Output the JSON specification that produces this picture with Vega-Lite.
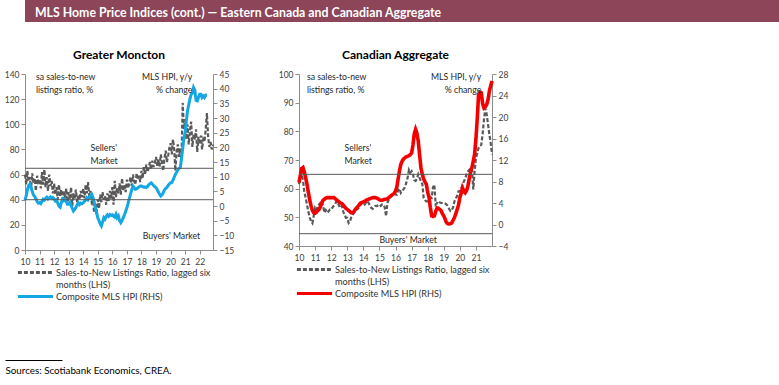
{
  "$schema": "https://vega.github.io/schema/vega-lite/v6.json",
  "background": "white",
  "padding": {"left": 4, "top": 0, "right": 0, "bottom": 0},
  "config": {
    "font": "Lato",
    "view": {"stroke": null},
    "axis": {"labelFont": "Lato", "labelFontSize": 8.5, "labelColor": "#404040", "domainColor": "#8c8c8c", "tickColor": "#8c8c8c", "tickSize": 4, "labelPadding": 2, "grid": false}
  },
  "align": "none",
  "spacing": 27,
  "vconcat": [
    {
      "width": 775,
      "height": 22,
      "view": {"fill": "#8C4559", "stroke": null},
      "title": {"text": "MLS Home Price Indices (cont.) \u2014 Eastern Canada and Canadian Aggregate", "anchor": "start", "offset": -19, "dx": 10, "color": "white", "font": "Lato", "fontSize": 12.3, "fontWeight": "bold"},
      "data": {"values": [{"a": 0}]},
      "mark": {"type": "point", "opacity": 0}
    },
    {
      "align": "none",
      "spacing": 53,
      "vconcat": [
        {
          "bounds": "flush",
          "spacing": 86,
          "resolve": {"scale": {"color": "independent", "strokeDash": "independent"}, "legend": {"color": "independent", "strokeDash": "independent"}},
          "hconcat": [
            {
              "width": 188,
              "height": 176,
              "title": {"text": "Greater Moncton", "font": "Lato", "fontSize": 12, "fontWeight": "bold", "color": "#000000", "offset": 8},
              "data": {"format": {"parse": {"d": "date:'%Y-%m'"}}, "values": [
      {"d":"2010-01","s":60,"h":2.0},{"d":"2010-02","s":52,"h":3.5},{"d":"2010-03","s":63,"h":5.5},{"d":"2010-04","s":55,"h":7.0},{"d":"2010-05","s":58,"h":7.4},{"d":"2010-06","s":48,"h":6.5},{"d":"2010-07","s":61,"h":5.0},{"d":"2010-08","s":53,"h":3.8},{"d":"2010-09","s":57,"h":3.2},{"d":"2010-10","s":47,"h":2.5},{"d":"2010-11","s":59,"h":1.5},{"d":"2010-12","s":54,"h":1.0},
      {"d":"2011-01","s":56,"h":1.2},{"d":"2011-02","s":49,"h":0.8},{"d":"2011-03","s":62,"h":1.5},{"d":"2011-04","s":52,"h":2.3},{"d":"2011-05","s":64,"h":2.0},{"d":"2011-06","s":50,"h":2.6},{"d":"2011-07","s":58,"h":3.0},{"d":"2011-08","s":47,"h":2.4},{"d":"2011-09","s":60,"h":2.8},{"d":"2011-10","s":51,"h":3.1},{"d":"2011-11","s":55,"h":2.6},{"d":"2011-12","s":45,"h":2.9},
      {"d":"2012-01","s":53,"h":2.4},{"d":"2012-02","s":44,"h":1.7},{"d":"2012-03","s":50,"h":2.0},{"d":"2012-04","s":40,"h":1.0},{"d":"2012-05","s":52,"h":0.0},{"d":"2012-06","s":43,"h":-0.4},{"d":"2012-07","s":48,"h":1.2},{"d":"2012-08","s":38,"h":2.3},{"d":"2012-09","s":47,"h":1.8},{"d":"2012-10","s":41,"h":2.3},{"d":"2012-11","s":49,"h":1.5},{"d":"2012-12","s":36,"h":0.6},
      {"d":"2013-01","s":46,"h":0.6},{"d":"2013-02","s":40,"h":1.2},{"d":"2013-03","s":50,"h":0.2},{"d":"2013-04","s":35,"h":-0.8},{"d":"2013-05","s":45,"h":-1.7},{"d":"2013-06","s":41,"h":-1.2},{"d":"2013-07","s":48,"h":-0.5},{"d":"2013-08","s":38,"h":0.4},{"d":"2013-09","s":44,"h":1.1},{"d":"2013-10","s":40,"h":0.5},{"d":"2013-11","s":47,"h":1.0},{"d":"2013-12","s":42,"h":0.8},
      {"d":"2014-01","s":49,"h":1.1},{"d":"2014-02","s":41,"h":1.6},{"d":"2014-03","s":52,"h":2.0},{"d":"2014-04","s":45,"h":2.8},{"d":"2014-05","s":54,"h":2.2},{"d":"2014-06","s":43,"h":3.0},{"d":"2014-07","s":47,"h":3.5},{"d":"2014-08","s":38,"h":4.0},{"d":"2014-09","s":40,"h":3.0},{"d":"2014-10","s":30,"h":1.5},{"d":"2014-11","s":36,"h":-0.6},{"d":"2014-12","s":28,"h":-2.0},
      {"d":"2015-01","s":40,"h":-4.0},{"d":"2015-02","s":33,"h":-5.0},{"d":"2015-03","s":44,"h":-6.0},{"d":"2015-04","s":38,"h":-6.8},{"d":"2015-05","s":46,"h":-5.5},{"d":"2015-06","s":40,"h":-4.0},{"d":"2015-07","s":43,"h":-4.5},{"d":"2015-08","s":36,"h":-3.5},{"d":"2015-09","s":45,"h":-3.0},{"d":"2015-10","s":39,"h":-3.5},{"d":"2015-11","s":47,"h":-2.9},{"d":"2015-12","s":41,"h":-3.2},
      {"d":"2016-01","s":50,"h":-3.0},{"d":"2016-02","s":36,"h":-3.5},{"d":"2016-03","s":55,"h":-3.8},{"d":"2016-04","s":42,"h":-2.8},{"d":"2016-05","s":49,"h":-4.0},{"d":"2016-06","s":45,"h":-3.4},{"d":"2016-07","s":53,"h":-5.0},{"d":"2016-08","s":44,"h":-5.7},{"d":"2016-09","s":57,"h":-5.0},{"d":"2016-10","s":47,"h":-4.0},{"d":"2016-11","s":52,"h":-3.0},{"d":"2016-12","s":46,"h":-1.8},
      {"d":"2017-01","s":56,"h":-0.6},{"d":"2017-02","s":49,"h":1.0},{"d":"2017-03","s":53,"h":2.5},{"d":"2017-04","s":58,"h":4.0},{"d":"2017-05","s":51,"h":5.5},{"d":"2017-06","s":60,"h":6.8},{"d":"2017-07","s":55,"h":6.3},{"d":"2017-08","s":52,"h":5.7},{"d":"2017-09","s":61,"h":5.8},{"d":"2017-10","s":56,"h":6.2},{"d":"2017-11","s":59,"h":6.5},{"d":"2017-12","s":54,"h":6.8},
      {"d":"2018-01","s":63,"h":6.8},{"d":"2018-02","s":57,"h":6.6},{"d":"2018-03","s":66,"h":6.4},{"d":"2018-04","s":60,"h":6.5},{"d":"2018-05","s":68,"h":6.3},{"d":"2018-06","s":62,"h":6.6},{"d":"2018-07","s":65,"h":7.2},{"d":"2018-08","s":70,"h":7.6},{"d":"2018-09","s":64,"h":7.9},{"d":"2018-10","s":71,"h":7.5},{"d":"2018-11","s":66,"h":7.0},{"d":"2018-12","s":69,"h":6.6},
      {"d":"2019-01","s":74,"h":6.3},{"d":"2019-02","s":67,"h":5.5},{"d":"2019-03","s":72,"h":4.8},{"d":"2019-04","s":66,"h":4.0},{"d":"2019-05","s":76,"h":3.4},{"d":"2019-06","s":69,"h":3.8},{"d":"2019-07","s":63,"h":4.5},{"d":"2019-08","s":73,"h":5.5},{"d":"2019-09","s":79,"h":6.0},{"d":"2019-10","s":70,"h":6.3},{"d":"2019-11","s":75,"h":7.0},{"d":"2019-12","s":81,"h":7.5},
      {"d":"2020-01","s":85,"h":7.9},{"d":"2020-02","s":76,"h":8.0},{"d":"2020-03","s":88,"h":8.8},{"d":"2020-04","s":80,"h":9.8},{"d":"2020-05","s":63,"h":10.8},{"d":"2020-06","s":78,"h":11.5},{"d":"2020-07","s":84,"h":12.3},{"d":"2020-08","s":74,"h":12.8},{"d":"2020-09","s":81,"h":13.1},{"d":"2020-10","s":72,"h":16.0},{"d":"2020-11","s":117,"h":19.5},{"d":"2020-12","s":96,"h":23.3},
      {"d":"2021-01","s":104,"h":25.0},{"d":"2021-02","s":88,"h":29.0},{"d":"2021-03","s":100,"h":32.4},{"d":"2021-04","s":84,"h":34.5},{"d":"2021-05","s":95,"h":36.5},{"d":"2021-06","s":102,"h":38.0},{"d":"2021-07","s":82,"h":38.5},{"d":"2021-08","s":92,"h":40.4},{"d":"2021-09","s":88,"h":39.5},{"d":"2021-10","s":96,"h":36.0},{"d":"2021-11","s":78,"h":35.8},{"d":"2021-12","s":90,"h":37.0},
      {"d":"2022-01","s":84,"h":38.1},{"d":"2022-02","s":91,"h":38.1},{"d":"2022-03","s":80,"h":37.0},{"d":"2022-04","s":88,"h":37.5},{"d":"2022-05","s":86,"h":37.0},{"d":"2022-06","s":96,"h":37.8},{"d":"2022-07","s":109,"h":37.8},{"d":"2022-08","s":90},{"d":"2022-09","s":82},{"d":"2022-10","s":86},{"d":"2022-11","s":80},{"d":"2022-12","s":84}
              ]},
              "layer": [
                {
                  "mark": {"type": "line", "strokeWidth": 2.2},
                  "encoding": {
                    "x": {"field": "d", "type": "temporal", "title": null,
                          "scale": {"domain": [{"year": 2010, "month": 1, "date": 1}, {"year": 2022, "month": 12, "date": 1}]},
                          "axis": {"format": "%y", "labelFlush": false, "labelOverlap": false, "labelPadding": 3, "tickSize": 4, "tickCount": {"interval": "year", "step": 1}}},
                    "y": {"field": "s", "type": "quantitative", "title": null, "scale": {"domain": [0, 140], "nice": false}, "axis": {"orient": "left", "values": [0, 20, 40, 60, 80, 100, 120, 140], "labelOverlap": false}},
                    "color": {
                      "datum": "Sales-to-New Listings Ratio, lagged six",
                      "scale": {"domain": ["Sales-to-New Listings Ratio, lagged six", "months (LHS)", "Composite MLS HPI (RHS)"], "range": ["#595959", "transparent", "#14A7E3"]},
                      "legend": {"orient": "none", "legendX": 5, "legendY": 193, "title": null, "direction": "vertical", "symbolType": "M-4.4,0H4.4", "symbolSize": 64, "symbolStrokeWidth": 2.8, "labelOffset": 15, "rowPadding": -3, "labelLimit": 300, "labelFont": "Lato", "labelFontSize": 9.2, "labelColor": "#333333"}
                    },
                    "strokeDash": {
                      "datum": "Sales-to-New Listings Ratio, lagged six",
                      "scale": {"domain": ["Sales-to-New Listings Ratio, lagged six", "months (LHS)", "Composite MLS HPI (RHS)"], "range": [[4, 2], [1, 0], [1, 0]]},
                      "legend": {"orient": "none", "legendX": 5, "legendY": 193, "title": null, "direction": "vertical", "symbolType": "M-4.4,0H4.4", "symbolSize": 64, "symbolStrokeWidth": 2.8, "labelOffset": 15, "rowPadding": -3, "labelLimit": 300, "labelFont": "Lato", "labelFontSize": 9.2, "labelColor": "#333333"}
                    }
                  }
                },
                {
                  "mark": {"type": "line", "strokeWidth": 3},
                  "encoding": {
                    "x": {"field": "d", "type": "temporal", "title": null},
                    "y": {"field": "h", "type": "quantitative", "title": null, "scale": {"domain": [-15, 45], "nice": false}, "axis": {"orient": "right", "values": [-15, -10, -5, 0, 5, 10, 15, 20, 25, 30, 35, 40, 45], "labelOverlap": false}},
                    "color": {"datum": "Composite MLS HPI (RHS)"},
                    "strokeDash": {"datum": "Composite MLS HPI (RHS)"}
                  }
                },
                {
                  "data": {"values": [{"v": 65}, {"v": 40}]},
                  "mark": {"type": "rule", "color": "#595959", "strokeWidth": 1},
                  "encoding": {"y": {"field": "v", "type": "quantitative", "title": null, "scale": {"domain": [0, 140], "nice": false}, "axis": null}}
                },
                {
                  "data": {"values": [
                    {"d": "2010-10", "v": 141, "t": "sa sales-to-new|listings ratio, %"},
                    {"d": "2014-07", "v": 84, "t": "Sellers'|Market"},
                    {"d": "2018-02", "v": 14.5, "t": "Buyers' Market"}
                  ], "format": {"parse": {"d": "date:'%Y-%m'"}}},
                  "mark": {"type": "text", "align": "left", "baseline": "top", "lineBreak": "|", "lineHeight": 13, "font": "Lato", "fontSize": 8.7, "color": "#262626"},
                  "encoding": {
                    "x": {"field": "d", "type": "temporal", "title": null},
                    "y": {"field": "v", "type": "quantitative", "title": null, "scale": {"domain": [0, 140], "nice": false}, "axis": null},
                    "text": {"field": "t"}
                  }
                },
                {
                  "data": {"values": [
                    {"d": "2021-07", "v": 141, "t": "MLS HPI, y/y|% change"}
                  ], "format": {"parse": {"d": "date:'%Y-%m'"}}},
                  "mark": {"type": "text", "align": "right", "baseline": "top", "lineBreak": "|", "lineHeight": 13, "font": "Lato", "fontSize": 8.7, "color": "#262626"},
                  "encoding": {
                    "x": {"field": "d", "type": "temporal", "title": null},
                    "y": {"field": "v", "type": "quantitative", "title": null, "scale": {"domain": [0, 140], "nice": false}, "axis": null},
                    "text": {"field": "t"}
                  }
                }
              ],
              "resolve": {"scale": {"y": "independent"}}
            },
            {
              "width": 193,
              "height": 172,
              "title": {"text": "Canadian Aggregate", "font": "Lato", "fontSize": 12, "fontWeight": "bold", "color": "#000000", "offset": 8},
              "data": {"format": {"parse": {"d": "date:'%Y-%m'"}}, "values": [
      {"d":"2010-01","s":61.5,"h":7.8},{"d":"2010-02","s":63.5,"h":9.2},{"d":"2010-03","s":65.0,"h":10.4},{"d":"2010-04","s":63.0,"h":10.6},{"d":"2010-05","s":59.0,"h":9.8},{"d":"2010-06","s":56.8,"h":8.7},{"d":"2010-07","s":54.5,"h":7.5},{"d":"2010-08","s":52.0,"h":6.0},{"d":"2010-09","s":50.0,"h":4.6},{"d":"2010-10","s":48.7,"h":3.5},{"d":"2010-11","s":48.0,"h":2.6},{"d":"2010-12","s":50.5,"h":2.2},
      {"d":"2011-01","s":53.3,"h":2.1},{"d":"2011-02","s":52.5,"h":2.3},{"d":"2011-03","s":54.0,"h":2.6},{"d":"2011-04","s":54.5,"h":2.8},{"d":"2011-05","s":55.0,"h":3.3},{"d":"2011-06","s":55.7,"h":4.0},{"d":"2011-07","s":54.0,"h":4.5},{"d":"2011-08","s":51.6,"h":4.7},{"d":"2011-09","s":52.5,"h":4.9},{"d":"2011-10","s":51.6,"h":5.0},{"d":"2011-11","s":52.0,"h":5.0},{"d":"2011-12","s":52.7,"h":5.0},
      {"d":"2012-01","s":52.7,"h":5.0},{"d":"2012-02","s":53.5,"h":5.0},{"d":"2012-03","s":54.0,"h":5.0},{"d":"2012-04","s":54.5,"h":4.8},{"d":"2012-05","s":55.7,"h":4.6},{"d":"2012-06","s":55.0,"h":4.4},{"d":"2012-07","s":54.0,"h":4.2},{"d":"2012-08","s":53.3,"h":4.0},{"d":"2012-09","s":54.0,"h":3.9},{"d":"2012-10","s":52.0,"h":3.6},{"d":"2012-11","s":51.0,"h":3.3},{"d":"2012-12","s":49.8,"h":3.0},
      {"d":"2013-01","s":49.8,"h":2.8},{"d":"2013-02","s":48.0,"h":2.6},{"d":"2013-03","s":48.5,"h":2.4},{"d":"2013-04","s":50.0,"h":2.2},{"d":"2013-05","s":50.9,"h":2.2},{"d":"2013-06","s":51.5,"h":2.4},{"d":"2013-07","s":52.0,"h":2.8},{"d":"2013-08","s":52.7,"h":3.1},{"d":"2013-09","s":53.0,"h":3.4},{"d":"2013-10","s":53.5,"h":3.7},{"d":"2013-11","s":54.5,"h":4.0},{"d":"2013-12","s":55.0,"h":4.1},
      {"d":"2014-01","s":55.0,"h":4.2},{"d":"2014-02","s":54.5,"h":4.3},{"d":"2014-03","s":55.2,"h":4.5},{"d":"2014-04","s":55.7,"h":4.6},{"d":"2014-05","s":55.0,"h":4.7},{"d":"2014-06","s":54.0,"h":4.8},{"d":"2014-07","s":53.3,"h":4.9},{"d":"2014-08","s":53.0,"h":5.0},{"d":"2014-09","s":53.5,"h":5.0},{"d":"2014-10","s":54.0,"h":5.0},{"d":"2014-11","s":53.9,"h":4.9},{"d":"2014-12","s":54.2,"h":4.8},
      {"d":"2015-01","s":54.5,"h":4.6},{"d":"2015-02","s":54.0,"h":4.5},{"d":"2015-03","s":54.5,"h":4.5},{"d":"2015-04","s":54.5,"h":4.6},{"d":"2015-05","s":53.5,"h":4.7},{"d":"2015-06","s":50.4,"h":4.7},{"d":"2015-07","s":55.0,"h":4.8},{"d":"2015-08","s":56.2,"h":5.0},{"d":"2015-09","s":57.0,"h":5.2},{"d":"2015-10","s":57.5,"h":5.4},{"d":"2015-11","s":57.9,"h":5.6},{"d":"2015-12","s":58.5,"h":5.8},
      {"d":"2016-01","s":58.0,"h":6.2},{"d":"2016-02","s":57.9,"h":7.0},{"d":"2016-03","s":59.5,"h":8.5},{"d":"2016-04","s":60.0,"h":10.0},{"d":"2016-05","s":58.5,"h":11.2},{"d":"2016-06","s":59.1,"h":11.8},{"d":"2016-07","s":59.8,"h":12.2},{"d":"2016-08","s":60.5,"h":12.4},{"d":"2016-09","s":62.0,"h":12.6},{"d":"2016-10","s":63.7,"h":12.7},{"d":"2016-11","s":66.5,"h":12.8},{"d":"2016-12","s":65.5,"h":13.0},
      {"d":"2017-01","s":66.1,"h":13.3},{"d":"2017-02","s":65.0,"h":14.8},{"d":"2017-03","s":63.0,"h":16.8},{"d":"2017-04","s":62.7,"h":17.7},{"d":"2017-05","s":63.5,"h":17.0},{"d":"2017-06","s":65.0,"h":15.5},{"d":"2017-07","s":63.8,"h":13.0},{"d":"2017-08","s":62.6,"h":10.5},{"d":"2017-09","s":61.6,"h":9.3},{"d":"2017-10","s":56.8,"h":8.5},{"d":"2017-11","s":56.0,"h":7.9},{"d":"2017-12","s":55.6,"h":7.5},
      {"d":"2018-01","s":55.6,"h":6.0},{"d":"2018-02","s":56.2,"h":5.0},{"d":"2018-03","s":57.0,"h":3.2},{"d":"2018-04","s":56.8,"h":1.6},{"d":"2018-05","s":60.5,"h":1.5},{"d":"2018-06","s":61.4,"h":1.6},{"d":"2018-07","s":54.5,"h":2.4},{"d":"2018-08","s":55.0,"h":3.1},{"d":"2018-09","s":55.6,"h":3.0},{"d":"2018-10","s":55.2,"h":2.8},{"d":"2018-11","s":55.0,"h":2.6},{"d":"2018-12","s":55.0,"h":2.0},
      {"d":"2019-01","s":55.0,"h":1.6},{"d":"2019-02","s":54.8,"h":1.0},{"d":"2019-03","s":54.5,"h":0.4},{"d":"2019-04","s":54.0,"h":0.15},{"d":"2019-05","s":53.0,"h":0.1},{"d":"2019-06","s":52.2,"h":0.15},{"d":"2019-07","s":52.5,"h":0.3},{"d":"2019-08","s":53.5,"h":0.8},{"d":"2019-09","s":55.6,"h":1.3},{"d":"2019-10","s":56.5,"h":2.0},{"d":"2019-11","s":57.5,"h":2.8},{"d":"2019-12","s":59.1,"h":3.6},
      {"d":"2020-01","s":59.1,"h":5.0},{"d":"2020-02","s":60.0,"h":5.8},{"d":"2020-03","s":61.4,"h":6.8},{"d":"2020-04","s":62.5,"h":6.2},{"d":"2020-05","s":63.5,"h":5.9},{"d":"2020-06","s":65.0,"h":6.3},{"d":"2020-07","s":66.0,"h":7.1},{"d":"2020-08","s":66.5,"h":8.5},{"d":"2020-09","s":67.2,"h":9.8},{"d":"2020-10","s":67.0,"h":10.6},{"d":"2020-11","s":59.7,"h":11.8},{"d":"2020-12","s":66.0,"h":13.1},
      {"d":"2021-01","s":70.7,"h":16.0},{"d":"2021-02","s":72.5,"h":19.9},{"d":"2021-03","s":74.2,"h":24.2},{"d":"2021-04","s":75.0,"h":24.6},{"d":"2021-05","s":75.3,"h":24.5},{"d":"2021-06","s":79.0,"h":22.5},{"d":"2021-07","s":84.0,"h":21.7},{"d":"2021-08","s":88.0,"h":21.9},{"d":"2021-09","s":86.0,"h":22.3},{"d":"2021-10","s":82.5,"h":23.2},{"d":"2021-11","s":79.0,"h":24.8},{"d":"2021-12","s":76.0,"h":25.8},
      {"d":"2022-01","s":72.0,"h":26.7}
              ]},
              "layer": [
                {
                  "mark": {"type": "line", "strokeWidth": 2.2},
                  "encoding": {
                    "x": {"field": "d", "type": "temporal", "title": null,
                          "scale": {"domain": [{"year": 2010, "month": 1, "date": 1}, {"year": 2021, "month": 12, "date": 31}]},
                          "axis": {"format": "%y", "labelFlush": false, "labelOverlap": false, "labelPadding": 3, "tickSize": 4, "tickCount": {"interval": "year", "step": 1}}},
                    "y": {"field": "s", "type": "quantitative", "title": null, "scale": {"domain": [40, 100], "nice": false}, "axis": {"orient": "left", "values": [40, 50, 60, 70, 80, 90, 100], "labelOverlap": false}},
                    "color": {
                      "datum": "Sales-to-New Listings Ratio, lagged six",
                      "scale": {"domain": ["Sales-to-New Listings Ratio, lagged six", "months (LHS)", "Composite MLS HPI (RHS)"], "range": ["#595959", "transparent", "#F40000"]},
                      "legend": {"orient": "none", "legendX": 10, "legendY": 190, "title": null, "direction": "vertical", "symbolType": "M-4.4,0H4.4", "symbolSize": 64, "symbolStrokeWidth": 2.8, "labelOffset": 15, "rowPadding": -3, "labelLimit": 300, "labelFont": "Lato", "labelFontSize": 9.2, "labelColor": "#333333"}
                    },
                    "strokeDash": {
                      "datum": "Sales-to-New Listings Ratio, lagged six",
                      "scale": {"domain": ["Sales-to-New Listings Ratio, lagged six", "months (LHS)", "Composite MLS HPI (RHS)"], "range": [[4, 2], [1, 0], [1, 0]]},
                      "legend": {"orient": "none", "legendX": 10, "legendY": 190, "title": null, "direction": "vertical", "symbolType": "M-4.4,0H4.4", "symbolSize": 64, "symbolStrokeWidth": 2.8, "labelOffset": 15, "rowPadding": -3, "labelLimit": 300, "labelFont": "Lato", "labelFontSize": 9.2, "labelColor": "#333333"}
                    }
                  }
                },
                {
                  "mark": {"type": "line", "strokeWidth": 3.6},
                  "encoding": {
                    "x": {"field": "d", "type": "temporal", "title": null},
                    "y": {"field": "h", "type": "quantitative", "title": null, "scale": {"domain": [-4, 28], "nice": false}, "axis": {"orient": "right", "values": [-4, 0, 4, 8, 12, 16, 20, 24, 28], "labelOverlap": false}},
                    "color": {"datum": "Composite MLS HPI (RHS)"},
                    "strokeDash": {"datum": "Composite MLS HPI (RHS)"}
                  }
                },
                {
                  "data": {"values": [{"v": 65}, {"v": 44.3}]},
                  "mark": {"type": "rule", "color": "#595959", "strokeWidth": 1},
                  "encoding": {"y": {"field": "v", "type": "quantitative", "title": null, "scale": {"domain": [40, 100], "nice": false}, "axis": null}}
                },
                {
                  "data": {"values": [
                    {"d": "2010-07", "v": 100.4, "t": "sa sales-to-new|listings ratio, %"},
                    {"d": "2012-11", "v": 75.6, "t": "Sellers'|Market"},
                    {"d": "2015-01", "v": 43.6, "t": "Buyers' Market"}
                  ], "format": {"parse": {"d": "date:'%Y-%m'"}}},
                  "mark": {"type": "text", "align": "left", "baseline": "top", "lineBreak": "|", "lineHeight": 13.5, "font": "Lato", "fontSize": 8.7, "color": "#262626"},
                  "encoding": {
                    "x": {"field": "d", "type": "temporal", "title": null},
                    "y": {"field": "v", "type": "quantitative", "title": null, "scale": {"domain": [40, 100], "nice": false}, "axis": null},
                    "text": {"field": "t"}
                  }
                },
                {
                  "data": {"values": [
                    {"d": "2021-05", "v": 100.4, "t": "MLS HPI, y/y|% change"}
                  ], "format": {"parse": {"d": "date:'%Y-%m'"}}},
                  "mark": {"type": "text", "align": "right", "baseline": "top", "lineBreak": "|", "lineHeight": 13.5, "font": "Lato", "fontSize": 8.7, "color": "#262626"},
                  "encoding": {
                    "x": {"field": "d", "type": "temporal", "title": null},
                    "y": {"field": "v", "type": "quantitative", "title": null, "scale": {"domain": [40, 100], "nice": false}, "axis": null},
                    "text": {"field": "t"}
                  }
                }
              ],
              "resolve": {"scale": {"y": "independent"}}
            }
          ]
        },
        {
          "width": 57,
          "height": 1,
          "data": {"values": [{"x": 0}]},
          "mark": {"type": "point", "opacity": 0},
          "encoding": {
            "x": {"field": "x", "type": "quantitative", "scale": {"domain": [0, 1]},
                  "axis": {"orient": "bottom", "position": -20, "domain": true, "domainColor": "#000000", "domainWidth": 1, "ticks": false, "labels": false, "grid": false,
                           "title": "Sources: Scotiabank Economics, CREA.", "titleAnchor": "start", "titleAlign": "left", "titleFont": "Lato", "titleFontWeight": "normal", "titleFontSize": 9.8, "titleColor": "#000000", "titlePadding": 5}}
          }
        }
      ]
    }
  ]
}
